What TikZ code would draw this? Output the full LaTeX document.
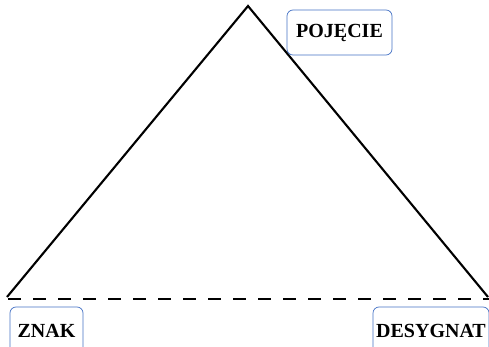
\documentclass[tikz,border=0pt]{standalone}
\usepackage{fontspec}
\setmainfont{Liberation Serif}
\definecolor{boxblue}{RGB}{68,114,196}
\begin{document}
\begin{tikzpicture}[x=1pt,y=-1pt,
  lbl/.style={draw=boxblue,line width=0.7pt,rounded corners=6pt,inner sep=0pt,font=\fontsize{20}{22}\selectfont\bfseries},
  edge/.style={line width=2.1pt,black},
  dline/.style={line width=2.2pt,black,dash pattern=on 13pt off 12pt}]
\useasboundingbox (0,0) rectangle (489,347);
\coordinate (top) at (248,6);
\coordinate (bl) at (7,297);
\coordinate (br) at (488,297);
\coordinate (dl) at (8,299);
\coordinate (dr) at (489,299);
\draw[edge] (bl) -- (top) -- (br);
\draw[dline] (dl) -- (dr);
\node[lbl,minimum width=105pt,minimum height=45pt] (poj) at (339.5,32.5) {POJĘCIE};
\node[lbl,minimum width=73pt,minimum height=48pt] (znak) at (46.5,331) {ZNAK};
\node[lbl,minimum width=116pt,minimum height=48pt] (des) at (431,331) {DESYGNAT};
\end{tikzpicture}
\end{document}
